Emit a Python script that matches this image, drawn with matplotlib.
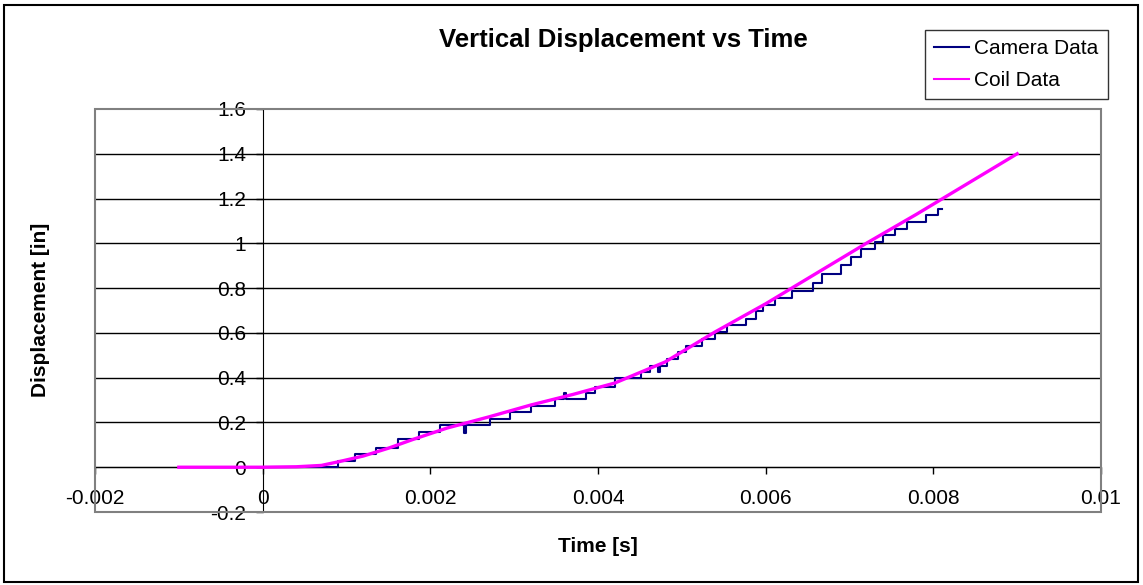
import matplotlib
matplotlib.use("Agg")
import matplotlib.pyplot as plt
from matplotlib.patches import Rectangle

plt.rcParams['font.family'] = ['Liberation Sans', 'DejaVu Sans']
plt.rcParams['axes.unicode_minus'] = False

# coil data (smooth curve)
coil_t = [-0.001, 0.0, 0.0004, 0.0007, 0.0009, 0.0012, 0.0015, 0.0018, 0.0022,
          0.0027, 0.0032, 0.0037, 0.0042, 0.0048, 0.0054, 0.006, 0.0066, 0.0072,
          0.0078, 0.0084, 0.009]
coil_y = [0.0, 0.0, 0.002, 0.008, 0.024, 0.05, 0.085, 0.125, 0.175,
          0.225, 0.278, 0.325, 0.376, 0.47, 0.605, 0.73, 0.865, 1.0,
          1.13, 1.265, 1.40]

# camera data (staircase: time of step, level after step)
cam_t = [0.0, 0.0009, 0.0011, 0.00135, 0.00162, 0.00187, 0.00212, 0.0024, 0.00242,
         0.00271, 0.00295, 0.00297, 0.0032, 0.00349, 0.0036, 0.00362, 0.00386,
         0.00396, 0.0042, 0.00451, 0.00462, 0.00472, 0.00474, 0.00482, 0.00496,
         0.00505, 0.00524, 0.00539, 0.00554, 0.00577, 0.00589, 0.00597, 0.00611,
         0.00631, 0.00657, 0.00667, 0.0069, 0.00702, 0.00714, 0.00731, 0.0074,
         0.00754, 0.00769, 0.00791, 0.00805, 0.0081]
cam_y = [0.0, 0.027, 0.061, 0.088, 0.124, 0.156, 0.187, 0.154, 0.187,
         0.214, 0.245, 0.245, 0.273, 0.303, 0.33, 0.303, 0.333,
         0.36, 0.398, 0.427, 0.453, 0.427, 0.453, 0.484, 0.516,
         0.543, 0.573, 0.604, 0.635, 0.664, 0.697, 0.726, 0.756,
         0.786, 0.824, 0.865, 0.903, 0.94, 0.973, 1.006, 1.036,
         1.066, 1.095, 1.126, 1.152, 1.152]

x_ticks = [-0.002, 0, 0.002, 0.004, 0.006, 0.008, 0.01]
x_labels = ['-0.002', '0', '0.002', '0.004', '0.006', '0.008', '0.01']
y_ticks = [-0.2, 0, 0.2, 0.4, 0.6, 0.8, 1.0, 1.2, 1.4, 1.6]
y_labels = ['-0.2', '0', '0.2', '0.4', '0.6', '0.8', '1', '1.2', '1.4', '1.6']

W, H = 1143, 585
fig = plt.figure(figsize=(W / 100, H / 100), dpi=100)
ax = fig.add_axes([95 / W, 1 - 512 / H, (1101 - 95) / W, (512 - 109) / H])

ax.set_xlim(-0.002, 0.01)
ax.set_ylim(-0.2, 1.6)

# gridlines
for yv in y_ticks[1:-1]:
    ax.axhline(yv, color='black', lw=1, zorder=1)

cam, = ax.step(cam_t, cam_y, where='post', color='#000080', lw=1.5, zorder=3,
               label='Camera Data')
coil, = ax.plot(coil_t, coil_y, color='#FF00FF', lw=2.4, zorder=4,
                label='Coil Data')

# axes crossing at zero, Excel style
for s in ['top', 'right']:
    ax.spines[s].set_visible(False)
ax.spines['left'].set_position(('data', 0))
ax.spines['bottom'].set_position(('data', 0))
ax.spines['left'].set_color('black')
ax.spines['bottom'].set_color('black')
ax.add_patch(Rectangle((0, 0), 1, 1, transform=ax.transAxes, fill=False,
                       edgecolor='#808080', lw=1.5, zorder=5, clip_on=False))

ax.set_xticks(x_ticks)
ax.set_xticklabels(x_labels)
ax.set_yticks(y_ticks)
ax.set_yticklabels(y_labels)
ax.tick_params(axis='both', direction='out', length=5, width=1, labelsize=15,
               colors='black')
ax.tick_params(axis='x', pad=11)
ax.tick_params(axis='y', pad=7)

fig.text(623 / W, 1 - 40 / H, 'Vertical Displacement vs Time', ha='center',
         va='center', fontsize=18.5, fontweight='bold')
fig.text(598 / W, 1 - 547 / H, 'Time [s]', ha='center', va='center',
         fontsize=15, fontweight='bold')
fig.text(41 / W, 1 - 310 / H, 'Displacement [in]', ha='center', va='center',
         rotation=90, fontsize=15, fontweight='bold')

leg = fig.legend(handles=[cam, coil], loc='upper left',
                 bbox_to_anchor=(925 / W, 1 - 30 / H), borderaxespad=0,
                 fontsize=15, frameon=True, fancybox=False, handlelength=1.65,
                 handletextpad=0.25, borderpad=0.45, labelspacing=0.6)
leg.get_frame().set_edgecolor('black')
leg.get_frame().set_linewidth(1)
for ln in leg.get_lines():
    ln.set_linewidth(1.5)

fig.patches.append(Rectangle((4 / W, 3 / H), 1 - 9 / W, 1 - 8 / H,
                             transform=fig.transFigure, fill=False,
                             edgecolor='black', lw=1.5))

fig.savefig('out.png', dpi=100)
